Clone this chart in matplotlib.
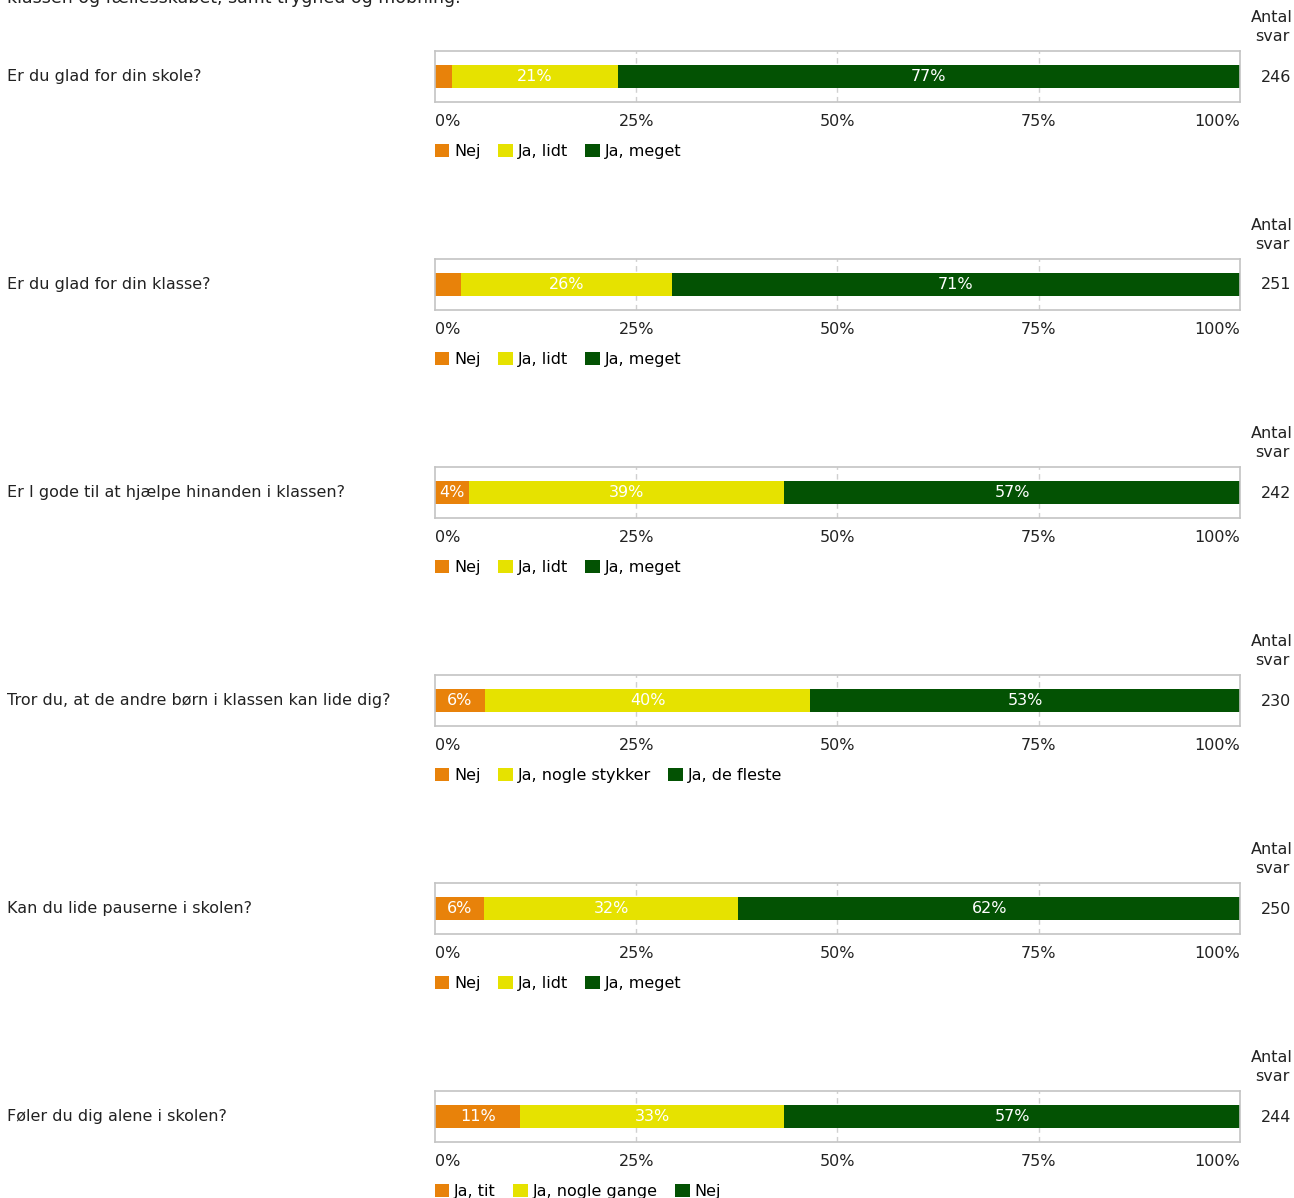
import matplotlib
matplotlib.use("Agg")
import matplotlib.pyplot as plt

plt.rcParams["font.family"] = ["DejaVu Sans"]

W, H = 1294, 1198

questions = [
    "Er du glad for din skole?",
    "Er du glad for din klasse?",
    "Er I gode til at hjælpe hinanden i klassen?",
    "Tror du, at de andre børn i klassen kan lide dig?",
    "Kan du lide pauserne i skolen?",
    "Føler du dig alene i skolen?",
]
answers = [
    ["Nej", "Ja, lidt", "Ja, meget"],
    ["Nej", "Ja, lidt", "Ja, meget"],
    ["Nej", "Ja, lidt", "Ja, meget"],
    ["Nej", "Ja, nogle stykker", "Ja, de fleste"],
    ["Nej", "Ja, lidt", "Ja, meget"],
    ["Ja, tit", "Ja, nogle gange", "Nej"],
]
shares = [
    [2.1, 20.6, 77.3],
    [3.2, 26.2, 70.6],
    [4.2, 39.2, 56.6],
    [6.2, 40.4, 53.4],
    [6.1, 31.6, 62.3],
    [10.6, 32.8, 56.6],
]
n_answers = [246, 251, 242, 230, 250, 244]
ticks = [0, 25, 50, 75, 100]

colors = ["#e8820a", "#e6e200", "#035203"]
FS = 11.5

fig = plt.figure(figsize=(W / 100, H / 100), dpi=100)

# heading above the first question, cut by the top edge as in the source
fig.text(7 / W, 1 - (-2) / H, "klassen og fællesskabet, samt tryghed og mobning.",
         fontsize=12.5, va="center", ha="left", color="#222222")

for i, q in enumerate(questions):
    off = 208 * i
    top, bot = 51 + off, 102 + off
    ax = fig.add_axes([435 / W, 1 - bot / H, 805 / W, (bot - top) / H])
    ax.set_xlim(0, 100)
    ax.set_ylim(-0.5, 0.5)
    for s in ax.spines.values():
        s.set_color("#c4c4c4")
        s.set_linewidth(1.2)
    for t in ticks[1:-1]:
        ax.axvline(t, color="#d0d0d0", lw=1, ls=(0, (4, 3)), zorder=0)

    left = 0
    handles = []
    for v, lab, c in zip(shares[i], answers[i], colors):
        b = ax.barh(0, v, left=left, height=0.47, color=c, label=lab, zorder=2)
        handles.append(b)
        if v >= 3.5:
            ax.text(left + v / 2, 0, f"{v:.0f}%", color="white", fontsize=FS,
                    ha="center", va="center", zorder=3)
        left += v

    ax.set_yticks([])
    ax.set_xticks(ticks)
    ax.set_xticklabels([f"{t}%" for t in ticks], fontsize=FS, color="#222222")
    ax.tick_params(axis="x", length=0, pad=8.5)
    labs = ax.get_xticklabels()
    labs[0].set_ha("left")
    labs[-1].set_ha("right")

    ax.legend(handles=handles, loc="upper left", bbox_to_anchor=(0, -0.82),
              ncol=3, frameon=False, fontsize=FS, handlelength=0.9,
              handleheight=0.9, handletextpad=0.3, columnspacing=1.1,
              borderpad=0, borderaxespad=0)

    yc = 1 - (77 + off) / H
    fig.text(7 / W, yc, q, fontsize=FS, ha="left", va="center", color="#222222")
    fig.text(1272 / W, 1 - (27 + off) / H, "Antal\nsvar", fontsize=FS,
             ha="center", va="center", color="#222222", linespacing=1.4)
    fig.text(1276 / W, yc, str(n_answers[i]), fontsize=FS, ha="center",
             va="center", color="#222222")

fig.savefig("out.png", dpi=100)
